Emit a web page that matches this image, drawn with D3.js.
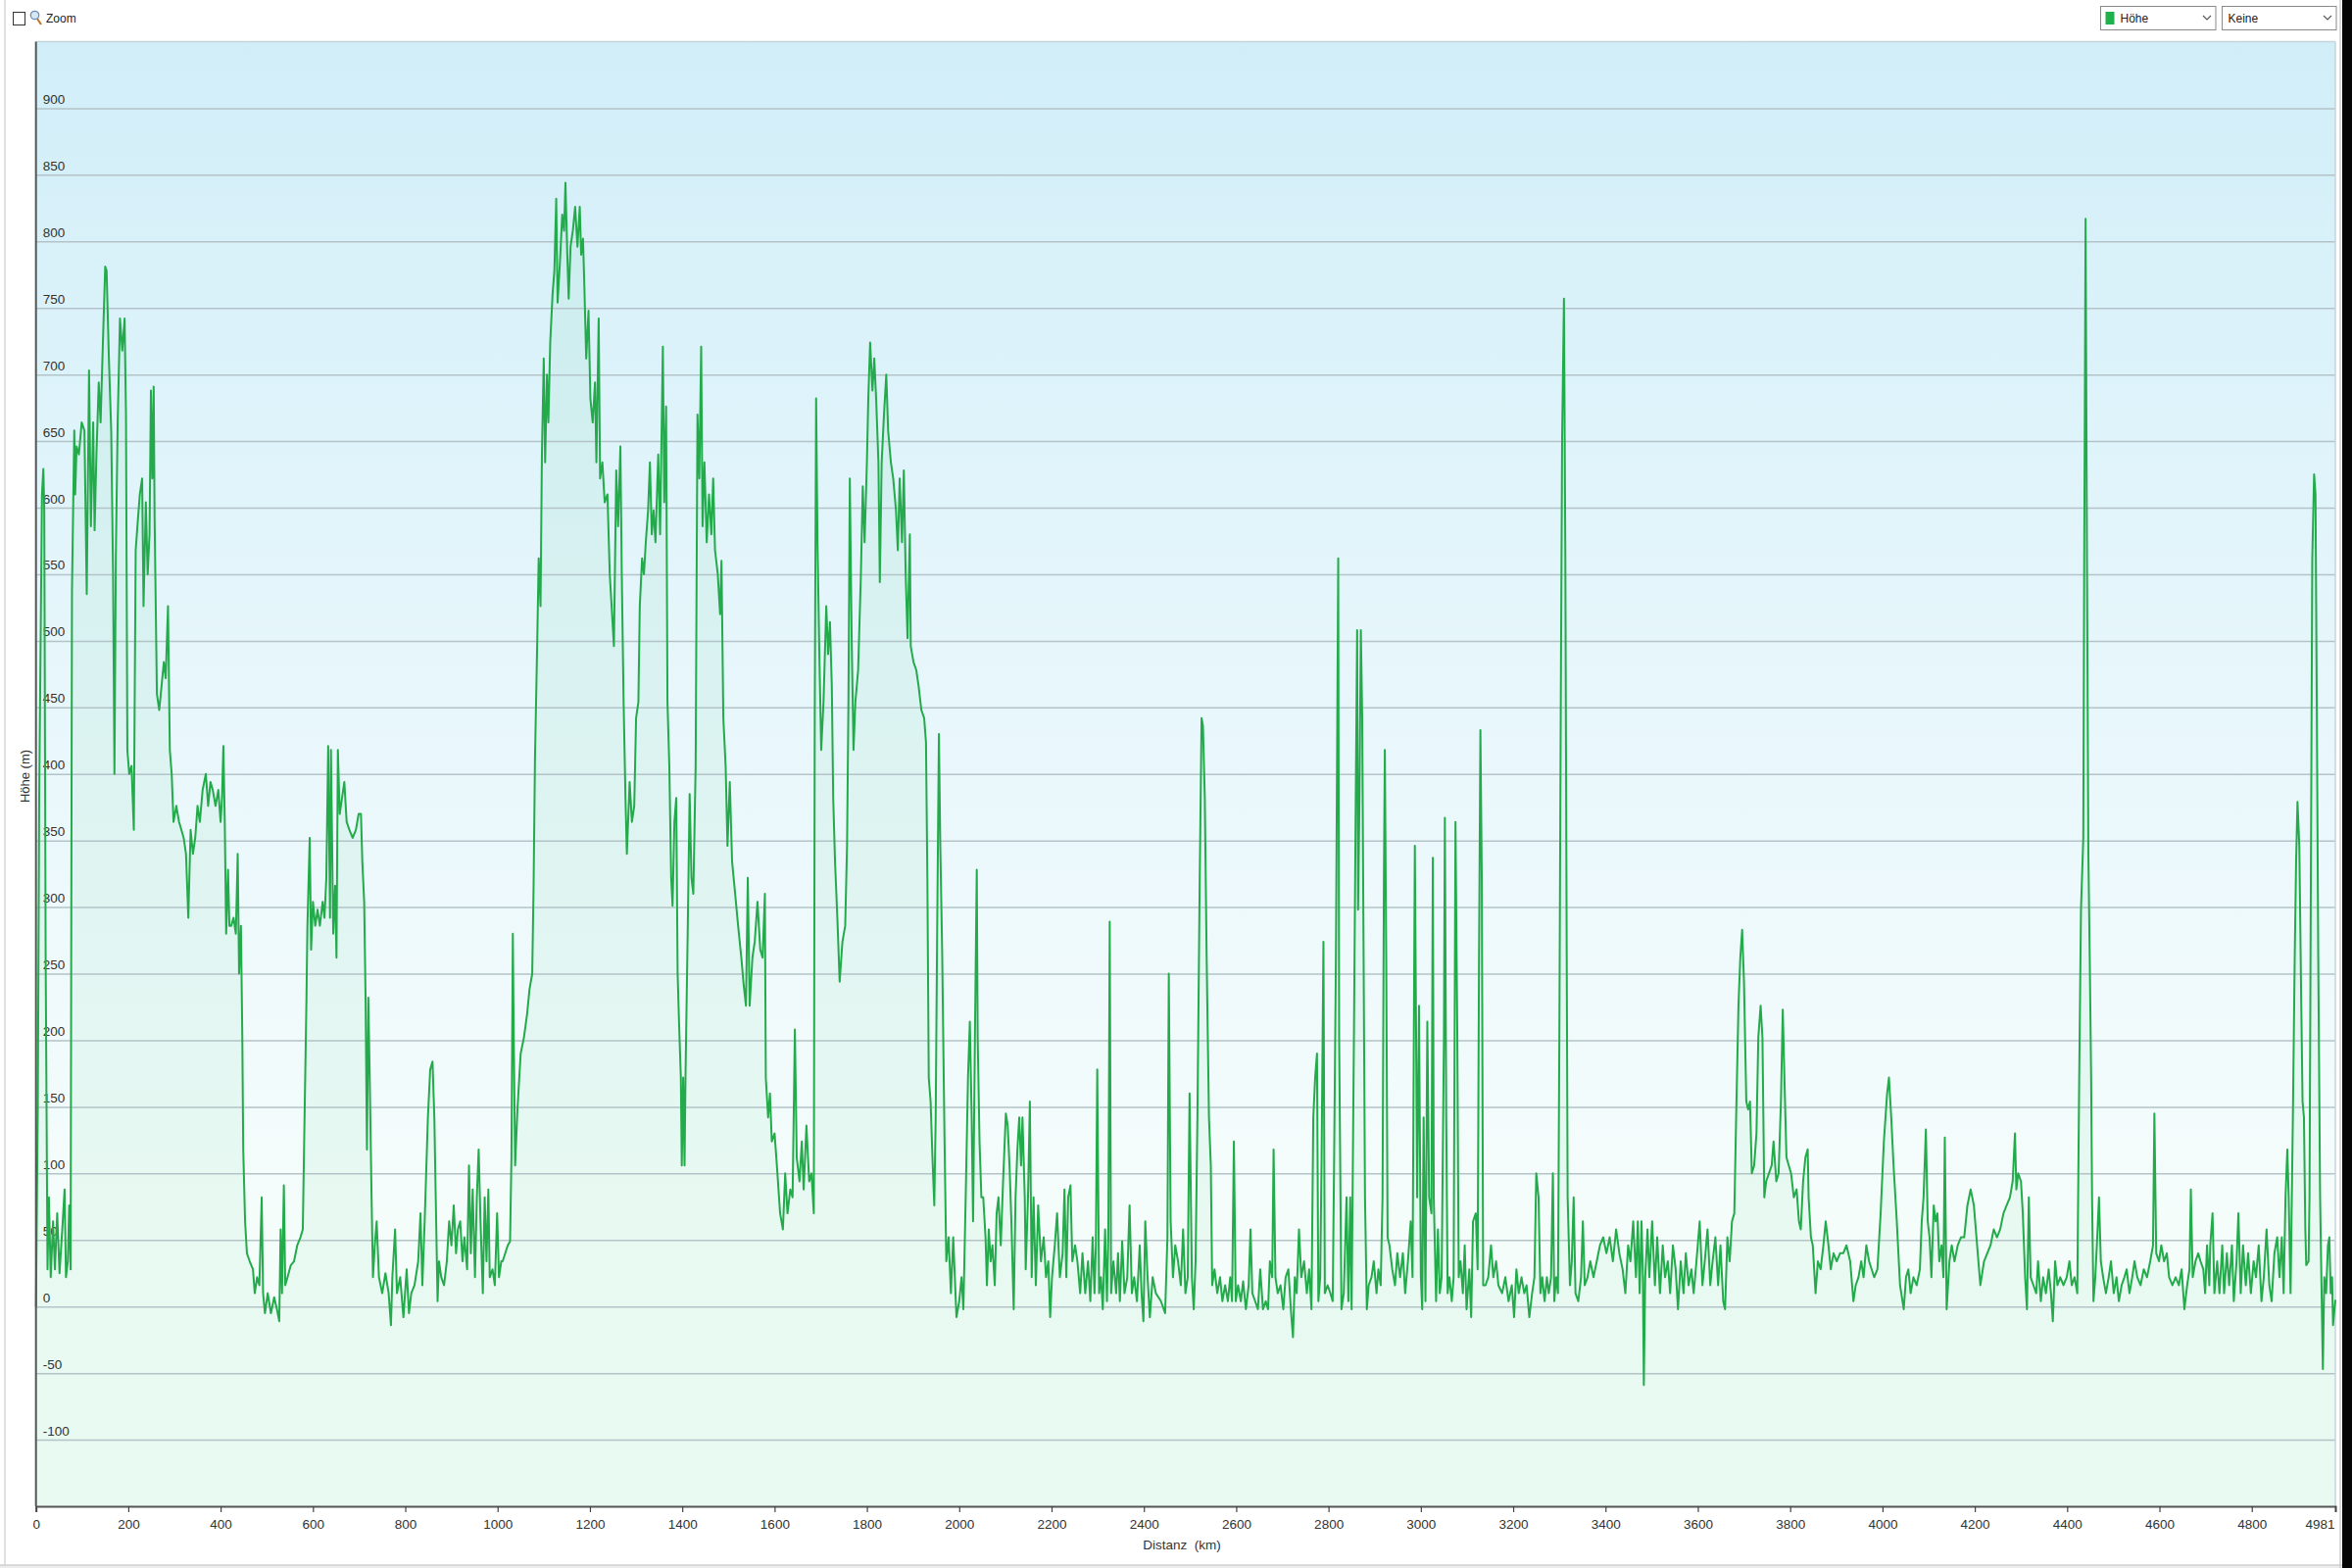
<!DOCTYPE html>
<html>
<head>
<meta charset="utf-8">
<script src="https://cdn.jsdelivr.net/npm/d3@7"></script>
<style>
  html, body { margin: 0; padding: 0; background: #ffffff; }
  svg { display: block; }
  .ax text, text.ax { font-family: 'Liberation Sans Narrow', 'Liberation Sans', Arial, sans-serif; fill: #333; }
  .ui { font-family: 'Liberation Sans', 'DejaVu Sans', Arial, sans-serif; fill: #222; }
</style>
</head>
<body>
<svg id="chart" width="2400" height="1600"></svg>
<script>
// ---------------- DATA (distance km, elevation m) ----------------
const xTickValues = [0, 200, 400, 600, 800, 1000, 1200, 1400, 1600, 1800, 2000, 2200, 2400, 2600, 2800, 3000, 3200, 3400, 3600, 3800, 4000, 4200, 4400, 4600, 4800, 4981];
const yTickValues = [-100, -50, 0, 50, 100, 150, 200, 250, 300, 350, 400, 450, 500, 550, 600, 650, 700, 750, 800, 850, 900];
const xTitle = "Distanz  (km)";
const yTitle = "Höhe (m)";
const seriesName = "Höhe";
const compareName = "Keine";

const profile0to1000 = [[0,0],[4,150],[7,382],[13,610],[16,629],[18,598],[21,262],[25,28],[28,82],[32,22],[37,64],[41,28],[46,70],[51,25],[57,58],[62,88],[65,22],[69,34],[72,76],[75,28],[78,538],[83,658],[85,610],[88,646],[93,640],[99,664],[105,658],[110,535],[115,703],[119,586],[124,664],[127,583],[131,640],[136,694],[140,664],[145,724],[150,781],[153,778],[158,712],[163,658],[167,550],[170,400],[173,562],[177,664],[182,742],[187,718],[192,742],[195,670],[198,418],[202,400],[207,406],[212,358],[216,568],[221,592],[225,610],[230,622],[233,526],[238,604],[242,550],[246,580],[249,688],[252,622],[255,691],[257,592],[262,460],[267,448],[272,466],[277,484],[281,472],[286,526],[290,418],[294,400],[298,364],[304,376],[310,364],[315,358],[320,352],[325,340],[330,292],[335,358],[340,340],[345,352],[350,376],[355,364],[361,388],[368,400],[373,376],[378,394],[383,388],[389,376],[395,388],[400,364],[403,382],[406,421],[409,364],[412,280],[416,328],[419,286],[423,286],[428,292],[433,280],[437,340],[440,250],[444,286],[447,202],[449,118],[453,64],[457,40],[463,34],[470,28],[474,10],[479,22],[484,16],[489,82],[492,10],[496,-5],[502,10],[509,-5],[516,7],[522,-2],[527,-11],[530,58],[533,10],[537,91],[540,16],[545,22],[552,31],[559,34],[566,46],[573,52],[578,58],[581,124],[586,232],[588,286],[593,352],[596,268],[600,304],[605,286],[610,298],[615,286],[621,304],[625,292],[629,322],[633,421],[637,292],[639,418],[644,280],[648,316],[651,262],[654,418],[658,370],[663,382],[668,394],[673,364],[679,358],[686,352],[693,358],[699,370],[704,370],[707,334],[711,304],[714,232],[717,118],[720,232],[723,172],[727,82],[730,22],[734,46],[738,64],[743,22],[750,10],[757,25],[764,10],[769,-14],[772,22],[778,58],[782,10],[789,22],[796,-8],[803,28],[808,-5],[813,10],[820,16],[828,34],[833,70],[837,16],[842,64],[849,142],[854,178],[859,184],[863,142],[866,82],[870,4],[873,34],[878,22],[884,16],[890,34],[895,64],[900,46],[905,76],[910,40],[914,58],[919,64],[924,34],[928,52],[934,28],[938,106],[942,40],[946,88],[951,22],[955,82],[959,118],[963,64],[968,10],[972,82],[976,34],[980,88],[983,22],[989,28],[994,16],[999,70],[1003,22],[1008,34]];

const profile1000to2000 = [[1011,34],[1022,46],[1027,49],[1030,112],[1033,280],[1035,202],[1038,106],[1043,148],[1050,190],[1057,202],[1064,220],[1069,238],[1075,250],[1078,316],[1081,412],[1086,502],[1089,562],[1093,526],[1096,640],[1100,712],[1103,634],[1107,700],[1110,664],[1114,724],[1119,760],[1123,778],[1127,832],[1130,754],[1135,784],[1140,820],[1144,808],[1147,844],[1151,790],[1154,757],[1158,796],[1163,808],[1168,826],[1173,796],[1178,826],[1181,790],[1185,802],[1188,766],[1192,712],[1197,748],[1201,682],[1206,664],[1211,694],[1214,634],[1219,742],[1222,622],[1227,634],[1232,604],[1238,610],[1243,550],[1252,496],[1257,628],[1261,586],[1266,646],[1269,550],[1273,454],[1277,382],[1280,340],[1286,394],[1291,364],[1296,376],[1300,442],[1305,454],[1308,526],[1313,562],[1317,550],[1321,574],[1326,598],[1330,634],[1334,580],[1338,598],[1342,574],[1348,640],[1352,580],[1358,721],[1361,604],[1365,676],[1368,454],[1372,406],[1376,322],[1379,301],[1383,364],[1387,382],[1390,250],[1393,214],[1397,172],[1399,106],[1402,172],[1405,106],[1407,172],[1412,286],[1416,385],[1420,322],[1424,310],[1429,406],[1433,670],[1437,622],[1441,721],[1444,586],[1448,634],[1453,574],[1458,610],[1463,580],[1467,622],[1471,568],[1477,550],[1482,520],[1485,560],[1489,442],[1494,406],[1498,346],[1503,394],[1508,334],[1513,316],[1521,286],[1528,262],[1533,242],[1538,226],[1542,322],[1546,226],[1552,262],[1557,274],[1563,304],[1569,268],[1574,262],[1579,310],[1581,172],[1586,142],[1590,160],[1594,124],[1600,130],[1605,106],[1612,70],[1618,58],[1623,100],[1628,70],[1634,88],[1639,82],[1644,208],[1648,112],[1654,94],[1659,124],[1663,88],[1669,136],[1675,94],[1680,100],[1685,70],[1687,442],[1690,682],[1693,574],[1697,490],[1701,418],[1706,454],[1712,526],[1716,490],[1720,514],[1724,466],[1727,382],[1731,334],[1736,292],[1741,244],[1747,274],[1753,286],[1757,346],[1760,454],[1763,622],[1767,502],[1771,418],[1775,454],[1781,478],[1787,550],[1791,616],[1795,574],[1800,634],[1803,682],[1807,724],[1812,688],[1816,712],[1820,682],[1825,634],[1828,544],[1832,634],[1837,670],[1842,700],[1846,658],[1852,634],[1857,622],[1863,598],[1867,568],[1871,622],[1876,574],[1880,628],[1884,550],[1888,502],[1893,580],[1895,496],[1901,484],[1907,478],[1912,466],[1918,448],[1924,442],[1928,424],[1931,322],[1934,172],[1938,154],[1942,112],[1946,76],[1949,142],[1952,274],[1956,430],[1959,346],[1963,268],[1968,130],[1972,34],[1977,52],[1982,10]];

const profile2000to3000 = [[1987,52],[1994,-8],[2000,4],[2005,22],[2009,-2],[2014,82],[2019,172],[2023,214],[2027,142],[2030,64],[2034,202],[2038,328],[2040,202],[2044,124],[2048,82],[2052,82],[2057,52],[2060,16],[2064,58],[2068,34],[2072,46],[2077,16],[2081,70],[2085,82],[2090,46],[2095,94],[2101,145],[2105,136],[2109,106],[2113,64],[2118,-2],[2122,82],[2126,118],[2130,142],[2134,106],[2137,142],[2142,82],[2144,28],[2149,82],[2153,154],[2157,22],[2161,82],[2166,16],[2171,76],[2177,34],[2183,52],[2188,22],[2193,34],[2197,-8],[2201,22],[2207,46],[2212,70],[2218,22],[2224,40],[2228,88],[2232,22],[2236,82],[2241,91],[2245,34],[2251,46],[2256,34],[2262,10],[2267,40],[2273,10],[2279,34],[2284,4],[2289,52],[2293,10],[2296,46],[2299,178],[2303,10],[2307,22],[2311,-2],[2316,58],[2320,4],[2323,52],[2326,289],[2329,10],[2334,34],[2340,10],[2344,40],[2348,4],[2353,49],[2358,10],[2364,22],[2369,76],[2374,10],[2379,22],[2385,4],[2391,46],[2395,10],[2399,-11],[2403,64],[2408,22],[2413,-8],[2419,22],[2426,10],[2437,4],[2446,-5],[2451,52],[2454,250],[2458,64],[2463,22],[2468,46],[2474,34],[2480,16],[2485,58],[2490,10],[2495,22],[2499,160],[2504,22],[2508,-2],[2512,34],[2516,142],[2521,322],[2525,442],[2528,436],[2532,382],[2536,262],[2541,142],[2545,106],[2548,16],[2553,28],[2559,10],[2565,22],[2570,4],[2576,16],[2582,4],[2587,22],[2591,4],[2595,124],[2599,4],[2604,16],[2610,4],[2615,19],[2621,-2],[2627,16],[2631,58],[2635,10],[2641,4],[2647,-2],[2652,28],[2658,-2],[2664,4],[2669,-2],[2673,34],[2678,22],[2681,118],[2685,22],[2690,10],[2696,16],[2702,-2],[2707,22],[2713,28],[2719,-5],[2723,-23],[2727,22],[2731,10],[2736,58],[2741,22],[2747,34],[2753,10],[2758,28],[2763,-2],[2767,142],[2771,172],[2775,190],[2778,4],[2782,22],[2785,112],[2789,274],[2792,10],[2798,16],[2804,10],[2809,4],[2812,106],[2816,262],[2821,562],[2823,202],[2828,-2],[2833,10],[2839,82],[2843,4],[2847,82],[2850,-2],[2855,202],[2859,382],[2862,508],[2864,298],[2867,382],[2870,508],[2873,442],[2876,262],[2879,82],[2883,-2],[2887,16],[2893,22],[2898,34],[2904,10],[2908,28],[2913,16],[2917,82],[2920,322],[2922,418],[2925,262],[2928,52],[2932,46],[2938,28],[2944,16],[2949,40],[2955,22],[2961,40],[2966,10],[2972,34],[2978,64],[2982,22]];

const profile3000to4000 = [[2987,346],[2992,82],[2996,226],[3000,22],[3003,-2],[3006,142],[3010,4],[3014,214],[3018,82],[3023,70],[3026,337],[3028,82],[3033,4],[3037,58],[3041,10],[3045,22],[3050,202],[3052,367],[3055,142],[3058,10],[3062,22],[3067,4],[3071,22],[3075,364],[3079,202],[3082,22],[3086,34],[3091,10],[3095,46],[3099,-2],[3105,28],[3109,-8],[3113,64],[3119,70],[3123,28],[3126,262],[3129,433],[3132,322],[3135,16],[3140,16],[3146,22],[3152,46],[3157,22],[3163,34],[3168,16],[3176,10],[3183,22],[3190,4],[3197,16],[3202,-8],[3207,28],[3212,10],[3218,22],[3224,10],[3229,16],[3235,-8],[3241,10],[3246,22],[3250,100],[3255,82],[3259,10],[3263,22],[3268,4],[3273,22],[3277,10],[3282,22],[3286,100],[3289,4],[3293,22],[3297,10],[3300,202],[3303,442],[3306,652],[3310,757],[3313,562],[3316,262],[3318,82],[3323,16],[3327,34],[3331,82],[3335,10],[3341,4],[3347,22],[3351,64],[3355,16],[3361,22],[3367,34],[3374,22],[3381,34],[3388,46],[3395,52],[3402,40],[3409,52],[3416,34],[3423,58],[3430,40],[3437,28],[3443,10],[3449,46],[3454,34],[3460,64],[3466,22],[3470,64],[3474,10],[3478,64],[3481,22],[3483,-59],[3486,22],[3491,58],[3495,22],[3501,64],[3507,16],[3512,52],[3518,10],[3524,46],[3529,22],[3535,34],[3540,10],[3546,46],[3552,28],[3557,-2],[3563,34],[3569,10],[3574,40],[3580,16],[3586,28],[3591,10],[3597,34],[3604,64],[3610,16],[3615,34],[3621,58],[3627,16],[3632,34],[3638,52],[3644,16],[3649,46],[3655,4],[3659,-2],[3664,52],[3669,34],[3674,64],[3679,70],[3683,142],[3688,226],[3692,262],[3696,283],[3700,244],[3705,154],[3709,148],[3713,154],[3717,100],[3722,106],[3727,130],[3731,202],[3736,226],[3740,202],[3744,82],[3748,94],[3754,100],[3760,106],[3764,124],[3770,94],[3775,100],[3780,154],[3784,223],[3788,166],[3792,112],[3797,106],[3802,100],[3808,82],[3814,88],[3819,64],[3823,58],[3828,94],[3833,112],[3838,118],[3840,82],[3845,52],[3849,46],[3855,10],[3860,34],[3866,28],[3872,46],[3877,64],[3883,46],[3888,28],[3894,40],[3901,34],[3908,40],[3915,40],[3922,46],[3930,34],[3937,4],[3942,16],[3948,22],[3954,34],[3959,22],[3965,46],[3971,34]];

const profile4000to4981 = [[3982,22],[3989,28],[3996,70],[4003,124],[4010,160],[4014,172],[4019,142],[4024,106],[4031,64],[4038,16],[4046,-2],[4051,22],[4056,28],[4061,10],[4067,22],[4074,16],[4081,28],[4085,64],[4089,82],[4094,133],[4098,64],[4102,52],[4106,22],[4111,76],[4115,64],[4119,70],[4123,34],[4128,46],[4132,22],[4135,127],[4139,-2],[4145,34],[4150,46],[4156,34],[4163,46],[4170,52],[4177,52],[4184,76],[4191,88],[4198,76],[4205,46],[4212,16],[4220,34],[4227,40],[4234,46],[4241,58],[4248,52],[4255,58],[4262,70],[4269,76],[4276,82],[4282,94],[4287,130],[4290,88],[4294,100],[4300,94],[4304,70],[4309,22],[4313,-2],[4317,82],[4321,22],[4327,16],[4333,10],[4337,34],[4343,4],[4348,22],[4354,10],[4360,28],[4365,10],[4369,-11],[4374,34],[4379,16],[4385,22],[4392,16],[4399,22],[4405,34],[4410,16],[4416,22],[4422,10],[4426,166],[4430,298],[4435,352],[4437,562],[4440,817],[4443,562],[4446,340],[4449,262],[4452,172],[4454,82],[4457,4],[4461,22],[4466,58],[4469,82],[4473,34],[4478,22],[4484,10],[4490,22],[4495,34],[4501,10],[4507,22],[4512,4],[4518,16],[4524,22],[4529,28],[4535,10],[4541,22],[4546,34],[4552,22],[4559,16],[4566,28],[4573,22],[4580,34],[4586,46],[4589,145],[4593,40],[4599,34],[4604,46],[4610,34],[4616,40],[4621,22],[4628,16],[4635,22],[4642,16],[4648,28],[4654,-2],[4660,16],[4665,28],[4668,88],[4672,22],[4678,34],[4684,40],[4689,34],[4695,28],[4699,10],[4703,46],[4708,16],[4710,46],[4715,70],[4719,10],[4725,34],[4730,10],[4736,46],[4740,10],[4746,40],[4751,16],[4757,46],[4761,4],[4767,34],[4771,70],[4776,10],[4781,46],[4787,16],[4792,40],[4798,10],[4804,34],[4809,22],[4815,46],[4821,4],[4826,22],[4832,58],[4838,16],[4843,4],[4849,40],[4855,52],[4860,22],[4865,52],[4869,10],[4873,82],[4877,118],[4880,82],[4884,10],[4889,142],[4893,262],[4896,334],[4899,379],[4903,346],[4907,232],[4910,154],[4913,142],[4916,58],[4918,31],[4923,34],[4925,82],[4928,322],[4931,562],[4935,625],[4938,610],[4941,442],[4944,262],[4948,82],[4951,16],[4954,-47],[4957,22],[4961,10],[4965,46],[4968,52],[4971,10],[4974,22],[4976,-14],[4981,5]];

// ---------------- LAYOUT ----------------
const W = 2400, H = 1600;
const plot = { left: 36.7, right: 2383, top: 42.5, bottom: 1537 };
const profile = [].concat(profile0to1000, profile1000to2000, profile2000to3000, profile3000to4000, profile4000to4981);
const plainNum = d => String(d);

const svg = d3.select('#chart');
const x = d3.scaleLinear().domain([0, 4981]).range([plot.left, plot.right]);
const y = d3.scaleLinear().domain([-150, 950]).range([plot.bottom, plot.top]);

// window chrome
svg.append('rect').attr('x', 0).attr('y', 0).attr('width', W).attr('height', H).attr('fill', '#ffffff');
svg.append('rect').attr('x', 0).attr('y', 1597).attr('width', W).attr('height', 3).attr('fill', '#ececec');
svg.append('line').attr('x1', 5).attr('x2', 5).attr('y1', 0).attr('y2', 1597).attr('stroke', '#d6d6d6').attr('stroke-width', 1.5);
svg.append('line').attr('x1', 0).attr('x2', 2390).attr('y1', 1597).attr('y2', 1597).attr('stroke', '#d0d0d0').attr('stroke-width', 1.5);
svg.append('line').attr('x1', 2388).attr('x2', 2388).attr('y1', 0).attr('y2', 1600).attr('stroke', '#cfcfcf').attr('stroke-width', 1.5);
svg.append('rect').attr('x', 2390).attr('y', 0).attr('width', 10).attr('height', H).attr('fill', '#050505');

// gradients
const defs = svg.append('defs');
const bg = defs.append('linearGradient').attr('id', 'bgGrad')
  .attr('gradientUnits', 'userSpaceOnUse').attr('x1', 0).attr('x2', 0).attr('y1', plot.top).attr('y2', plot.bottom);
[[0, '#d1eef8'], [0.35, '#e3f5fb'], [0.65, '#f0fafc'], [0.8, '#f5fdfb'], [1, '#f6fefb']]
  .forEach(([o, c]) => bg.append('stop').attr('offset', o).attr('stop-color', c));

svg.append('rect').attr('x', plot.left).attr('y', plot.top)
  .attr('width', plot.right - plot.left).attr('height', plot.bottom - plot.top)
  .attr('fill', 'url(#bgGrad)');

// area under the line
const area = d3.area().x(d => x(d[0])).y0(plot.bottom).y1(d => y(d[1]));
svg.append('path').datum(profile).attr('d', area).attr('fill', 'rgb(60,200,110)').attr('fill-opacity', 0.07);

// gridlines
const grid = svg.append('g').attr('transform', `translate(${plot.left},0)`)
  .call(d3.axisLeft(y).tickValues(yTickValues).tickSize(-(plot.right - plot.left)).tickFormat(''));
grid.select('.domain').remove();
grid.selectAll('line').attr('stroke', '#b3c3c7').attr('stroke-width', 1.5);

// plot border (top / right)
svg.append('line').attr('x1', plot.left).attr('x2', plot.right).attr('y1', plot.top).attr('y2', plot.top).attr('stroke', '#c5d5da').attr('stroke-width', 1.5);
svg.append('line').attr('x1', plot.right).attr('x2', plot.right).attr('y1', plot.top).attr('y2', plot.bottom).attr('stroke', '#c5d5da').attr('stroke-width', 1.5);

// y labels inside plot
const yLab = svg.append('g').attr('class', 'ax').attr('transform', `translate(${plot.left},0)`)
  .call(d3.axisRight(y).tickValues(yTickValues).tickSize(0).tickPadding(7).tickFormat(plainNum));
yLab.select('.domain').remove();
yLab.selectAll('text').attr('dy', null).attr('y', -5).attr('font-size', 13.5).attr('fill', '#333');

// the line
const line = d3.line().x(d => x(d[0])).y(d => y(d[1]));
svg.append('path').datum(profile).attr('d', line)
  .attr('fill', 'none').attr('stroke', '#23ab4b').attr('stroke-width', 2).attr('stroke-linejoin', 'round');

// y axis line
svg.append('line').attr('x1', plot.left).attr('x2', plot.left).attr('y1', plot.top).attr('y2', plot.bottom)
  .attr('stroke', '#555').attr('stroke-width', 2);

// x axis
const xAx = svg.append('g').attr('class', 'ax').attr('transform', `translate(0,${plot.bottom})`)
  .call(d3.axisBottom(x).tickValues(xTickValues).tickSize(6).tickPadding(7).tickFormat(plainNum));
xAx.select('.domain').attr('stroke', '#555').attr('stroke-width', 2);
xAx.selectAll('line').attr('stroke', '#444').attr('stroke-width', 1.2);
xAx.selectAll('text').attr('font-size', 13.5).attr('fill', '#333');
xAx.selectAll('.tick').filter(d => d === 4981).select('text').attr('text-anchor', 'end').attr('x', -1);

// axis titles
svg.append('text').attr('class', 'ax').attr('x', 1206).attr('y', 1581)
  .attr('text-anchor', 'middle').attr('font-size', 13.5)
  .style('white-space', 'pre').text(xTitle);
svg.append('text').attr('class', 'ax').attr('transform', 'translate(30,792) rotate(-90)')
  .attr('text-anchor', 'middle').attr('font-size', 13).text(yTitle);

// top-left zoom control
svg.append('rect').attr('x', 13.5).attr('y', 12.5).attr('width', 12).attr('height', 13)
  .attr('fill', '#fff').attr('stroke', '#333').attr('stroke-width', 1);
svg.append('line').attr('x1', 38).attr('y1', 19).attr('x2', 42).attr('y2', 25).attr('stroke', '#c0782c').attr('stroke-width', 2.2);
svg.append('circle').attr('cx', 35.5).attr('cy', 15.5).attr('r', 4.2).attr('fill', '#d6e8f4').attr('stroke', '#6b8db0').attr('stroke-width', 1.3);
svg.append('text').attr('class', 'ui').attr('x', 47).attr('y', 23).attr('font-size', 12).text('Zoom');

// top-right dropdowns
function dropdown(x0, x1, label, swatch) {
  svg.append('rect').attr('x', x0).attr('y', 6.5).attr('width', x1 - x0).attr('height', 24)
    .attr('fill', '#fff').attr('stroke', '#8a8a8a').attr('stroke-width', 1);
  let tx = x0 + 6;
  if (swatch) {
    svg.append('rect').attr('x', x0 + 5).attr('y', 12).attr('width', 9).attr('height', 13).attr('fill', swatch);
    tx = x0 + 20;
  }
  svg.append('text').attr('class', 'ui').attr('x', tx).attr('y', 23).attr('font-size', 12).text(label);
  const cx = x1 - 9;
  svg.append('path').attr('d', `M${cx - 4},16 L${cx},20 L${cx + 4},16`).attr('fill', 'none').attr('stroke', '#555').attr('stroke-width', 1.1);
}
dropdown(2143.5, 2261, seriesName, '#1fb14c');
dropdown(2267.5, 2384, compareName, null);
</script>
</body>
</html>
